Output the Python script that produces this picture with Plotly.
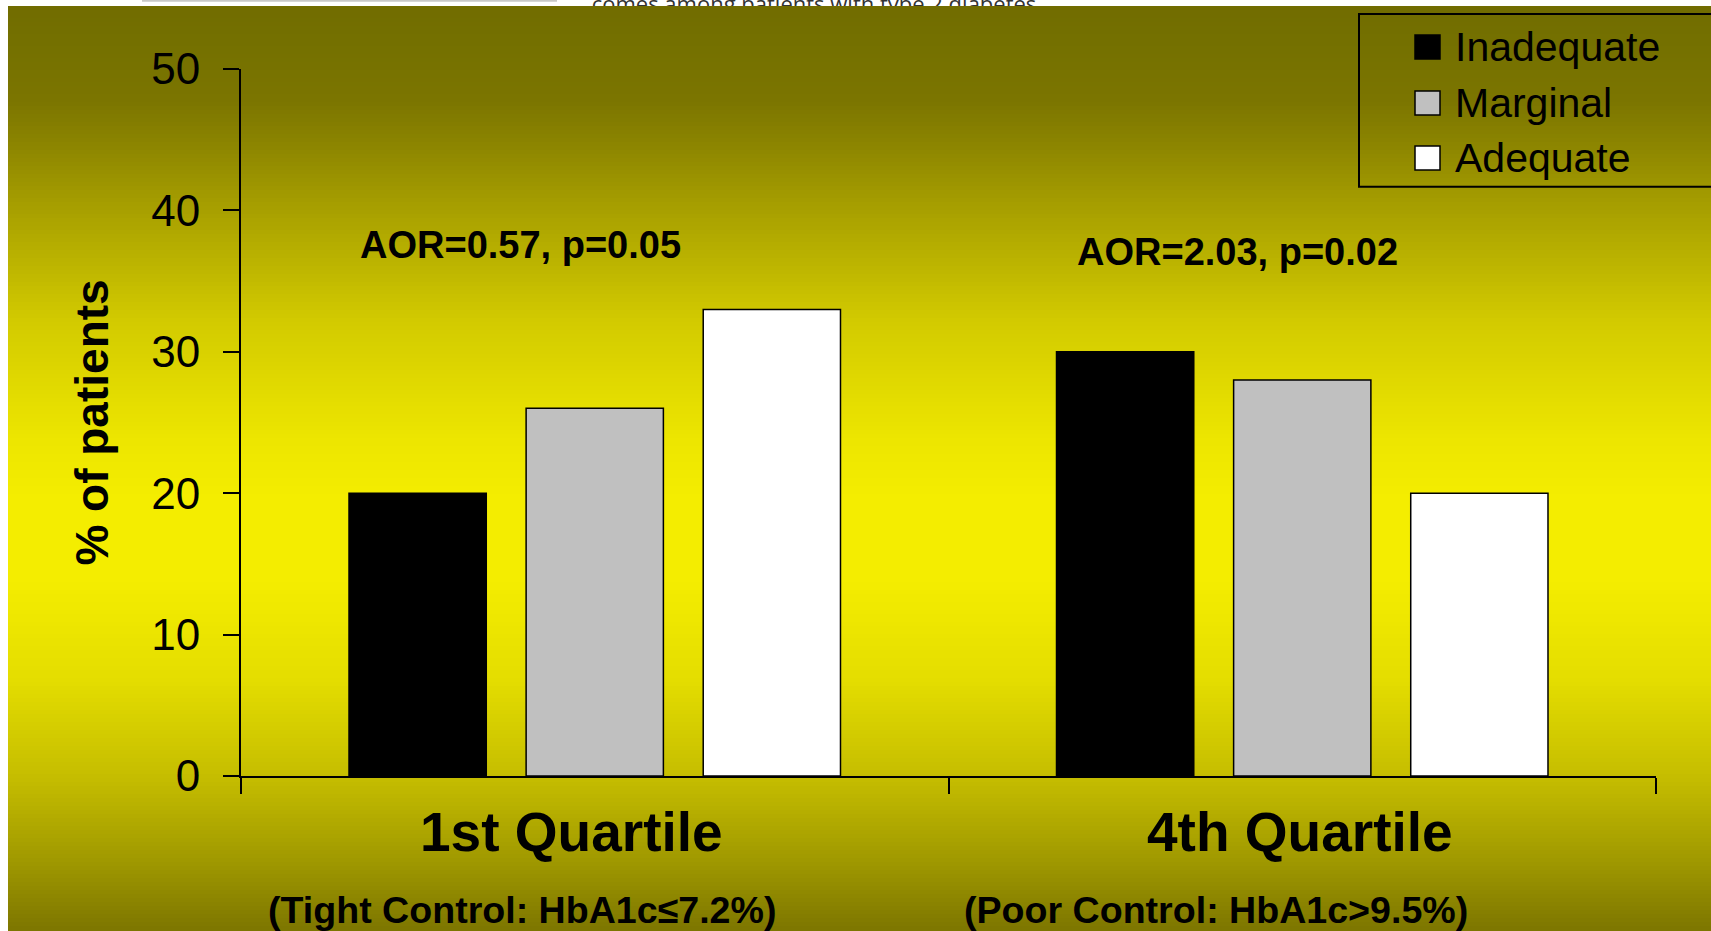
import plotly.graph_objects as go

# ---------------- data ----------------
categories = ["1st Quartile", "4th Quartile"]
subtitles = ["(Tight Control: HbA1c≤7.2%)", "(Poor Control: HbA1c>9.5%)"]
series_names = ["Inadequate", "Marginal", "Adequate"]
inadequate = [20, 30]
marginal = [26, 28]
adequate = [33, 20]
aor_labels = ["AOR=0.57, p=0.05", "AOR=2.03, p=0.02"]
y_ticks = [0, 10, 20, 30, 40, 50]
y_title = "% of patients"
header_fragment = "comes among patients with type 2 diabetes"

# ---------------- styling helpers ----------------
W, H = 1711, 931


def px_x(p):
    return p / W


def px_y(p):
    return 1 - p / H


FONT = "Liberation Sans, Arial, sans-serif"
fills = ["#000000", "#c0c0c0", "#ffffff"]
series = [inadequate, marginal, adequate]

# vertical background gradient (pixel row -> colour)
grad_stops = [
    (6, (0x71, 0x6C, 0x00)),
    (40, (0x74, 0x70, 0x00)),
    (100, (0x7B, 0x75, 0x00)),
    (140, (0x8A, 0x83, 0x00)),
    (200, (0xA4, 0x9C, 0x00)),
    (240, (0xB3, 0xAB, 0x00)),
    (320, (0xD2, 0xCA, 0x00)),
    (440, (0xED, 0xE6, 0x00)),
    (500, (0xF4, 0xED, 0x00)),
    (580, (0xF4, 0xED, 0x00)),
    (680, (0xE4, 0xDD, 0x00)),
    (780, (0xC4, 0xBC, 0x00)),
    (860, (0xA0, 0x99, 0x00)),
    (931, (0x7C, 0x76, 0x00)),
]


def grad_color(p):
    for (p0, c0), (p1, c1) in zip(grad_stops[:-1], grad_stops[1:]):
        if p0 <= p <= p1:
            t = (p - p0) / (p1 - p0)
            c = [round(a + (b - a) * t) for a, b in zip(c0, c1)]
            return "rgb(%d,%d,%d)" % tuple(c)
    return "rgb(%d,%d,%d)" % grad_stops[-1][1]


shapes = []
step = 4
p = 6
while p < H:
    shapes.append(dict(type="rect", xref="paper", yref="paper", layer="below",
                       x0=px_x(8), x1=1.0, y0=px_y(min(p + step + 0.6, H)), y1=px_y(p),
                       fillcolor=grad_color(p + step / 2), line=dict(width=0)))
    p += step

# thin grey line in top white strip
shapes.append(dict(type="rect", xref="paper", yref="paper", layer="below",
                   x0=px_x(142), x1=px_x(557), y0=px_y(1.8), y1=1.0,
                   fillcolor="#c8c8c8", line=dict(width=0)))

# ---------------- figure ----------------
fig = go.Figure()
for name, vals, color in zip(series_names, series, fills):
    fig.add_trace(go.Bar(
        x=categories, y=vals, name=name,
        marker=dict(color=color, line=dict(color="black", width=1.5)),
        showlegend=False, xaxis="x", yaxis="y", hoverinfo="skip",
    ))

# clipped fragment of text from the page above the chart
fig.add_trace(go.Scatter(
    x=[814], y=[0], mode="text", text=[header_fragment],
    textposition="middle center",
    textfont=dict(family="Open Sans", size=22, color="#333333"),
    xaxis="x2", yaxis="y2", showlegend=False, hoverinfo="skip", cliponaxis=True,
))

annotations = []
# AOR labels
for txt, xc, yc in zip(aor_labels, [520, 1237.5], [245, 252]):
    annotations.append(dict(text=txt, xref="paper", yref="paper", x=px_x(xc), y=px_y(yc),
                            xanchor="center", yanchor="middle", showarrow=False,
                            font=dict(family=FONT, size=38, weight="bold", color="black")))
# category labels
for txt, xc in zip(categories, [571, 1300]):
    annotations.append(dict(text=txt, xref="paper", yref="paper", x=px_x(xc), y=px_y(832),
                            xanchor="center", yanchor="middle", showarrow=False,
                            font=dict(family=FONT, size=55, weight="bold", color="black")))
for txt, xc in zip(subtitles, [522, 1215.6]):
    annotations.append(dict(text=txt, xref="paper", yref="paper", x=px_x(xc), y=px_y(910),
                            xanchor="center", yanchor="middle", showarrow=False,
                            font=dict(family=FONT, size=37.6, weight="bold", color="black")))

# legend (box, swatches, names)
shapes.append(dict(type="rect", xref="paper", yref="paper", layer="above",
                   x0=px_x(1359), x1=1.02, y0=px_y(186.7), y1=px_y(14),
                   fillcolor="rgba(0,0,0,0)", line=dict(color="black", width=2)))
for name, color, yc in zip(series_names, fills, [47, 103, 158]):
    shapes.append(dict(type="rect", xref="paper", yref="paper", layer="above",
                       x0=px_x(1415), x1=px_x(1440), y0=px_y(yc + 12), y1=px_y(yc - 12),
                       fillcolor=color, line=dict(color="black", width=1.5)))
    annotations.append(dict(text=name, xref="paper", yref="paper", x=px_x(1453), y=px_y(yc),
                            xanchor="left", yanchor="middle", showarrow=False,
                            font=dict(family=FONT, size=41, color="black")))

fig.update_layout(
    width=W, height=H,
    margin=dict(l=0, r=0, t=0, b=0, pad=0),
    paper_bgcolor="white", plot_bgcolor="rgba(0,0,0,0)",
    barmode="group", bargap=0.249, bargroupgap=0.225,
    font=dict(family=FONT, color="black"),
    showlegend=False,
    xaxis=dict(domain=[px_x(241), px_x(1656)], type="category", range=[-0.5, 1.5],
               showticklabels=False, ticks="outside", tickson="boundaries",
               ticklen=16, tickwidth=2, tickcolor="black",
               showline=True, linecolor="black", linewidth=2,
               showgrid=False, zeroline=False, anchor="y", automargin=False, fixedrange=True),
    yaxis=dict(domain=[px_y(776), px_y(69)], range=[0, 50], tickvals=y_ticks,
               ticks="outside", ticklen=16, tickwidth=2, tickcolor="black",
               showline=True, linecolor="black", linewidth=2,
               showgrid=False, zeroline=False,
               tickfont=dict(family=FONT, size=44, color="black"), ticklabelstandoff=14,
               title=dict(text=y_title, font=dict(family=FONT, size=46, weight="bold", color="black"),
                          standoff=28),
               anchor="x", automargin=False, fixedrange=True),
    xaxis2=dict(domain=[0, 1], range=[0, W], visible=False, anchor="y2", fixedrange=True),
    yaxis2=dict(domain=[px_y(6), 1], range=[0, 1], visible=False, anchor="x2", fixedrange=True),
    shapes=shapes,
    annotations=annotations,
)

fig.write_html("out.html")
